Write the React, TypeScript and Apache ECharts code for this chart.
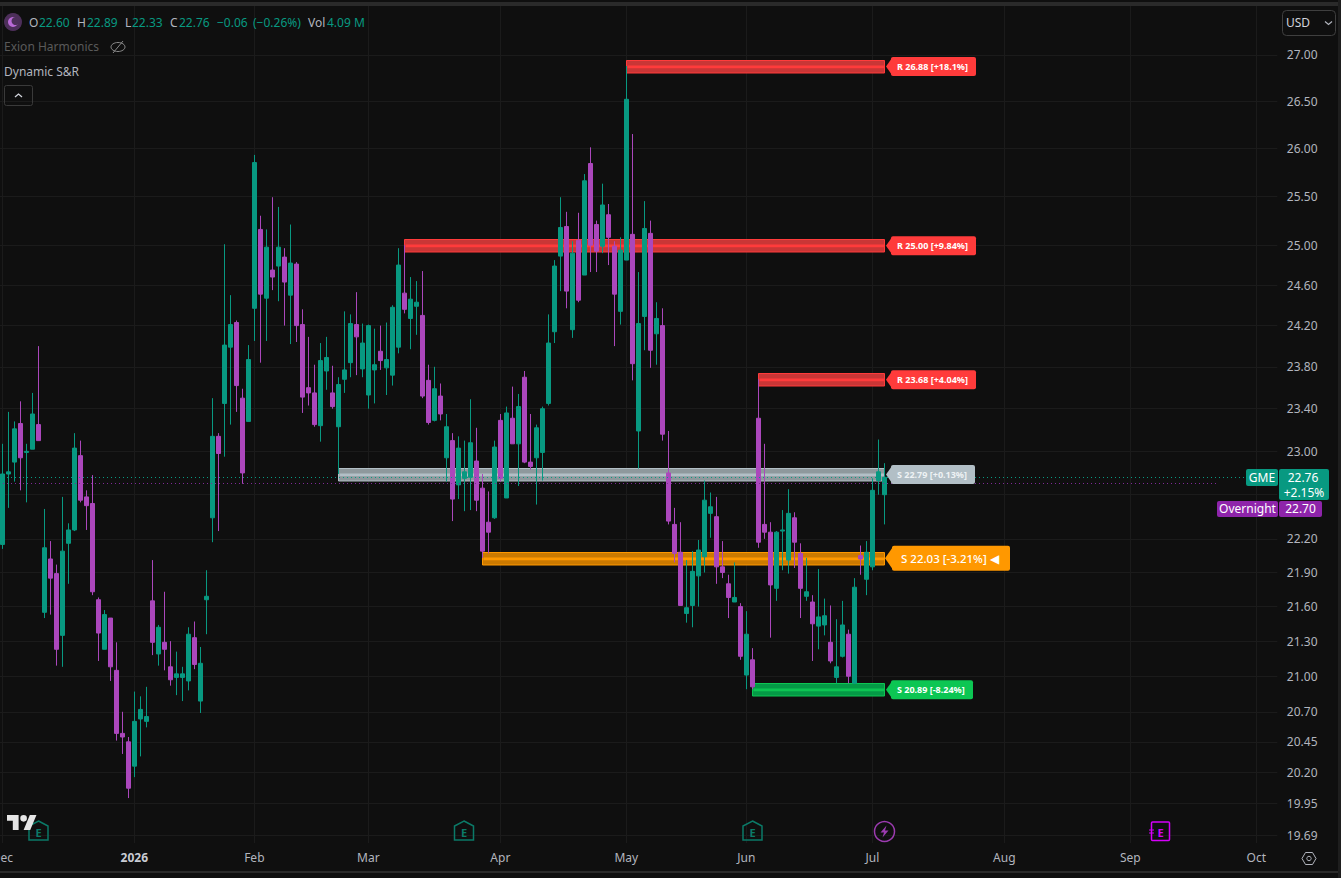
import React, { useEffect, useRef } from "react";
import * as echarts from "echarts";

const holidays = ["2025-12-25","2026-01-01","2026-01-19","2026-02-16","2026-04-03","2026-05-25","2026-06-19","2026-07-03","2026-09-07"];
const monthNames = ["2026","Feb","Mar","Apr","May","Jun","Jul","Aug","Sep","Oct","Nov","Dec"];

const opens = [
22.15,22.79,22.90,23.26,22.99,23.02,23.25,21.55,22.02,21.89,
21.35,22.16,22.28,22.96,22.58,22.52,21.66,21.23,21.50,21.05,
20.52,20.45,20.25,20.64,20.62,21.65,21.19,21.29,21.08,20.99,
20.99,20.96,21.33,20.79,21.66,22.39,23.14,23.45,23.99,24.23,
23.50,23.28,24.37,25.16,24.47,24.75,24.79,24.88,24.50,24.81,
24.21,23.60,23.55,23.24,23.76,23.55,23.23,23.68,23.84,24.21,
23.78,23.53,23.77,23.95,23.79,23.72,23.99,24.52,24.27,24.39,
24.30,23.67,23.29,23.52,22.94,23.10,22.69,22.75,22.76,22.91,
22.66,22.35,22.39,23.29,22.57,23.31,23.07,23.70,22.90,22.94,
22.99,23.45,24.14,24.89,25.19,24.16,25.05,24.70,25.84,25.21,
24.99,25.31,24.99,24.34,24.85,25.11,23.19,24.29,25.12,24.12,
24.20,22.80,22.33,22.08,21.54,21.61,21.87,22.04,22.43,22.40,
21.95,21.80,21.64,21.60,21.01,21.14,23.31,22.33,22.26,21.76,
22.27,22.01,22.39,22.07,21.69,21.64,21.43,21.44,21.29,20.99,
21.17,21.36,20.94,22.05,21.84,21.95,22.73,22.60];
const closes = [
22.79,22.81,23.21,22.94,23.00,23.35,23.10,22.12,21.85,21.23,
22.09,22.28,23.03,22.55,22.50,21.73,21.37,21.53,21.08,20.52,
20.49,20.07,20.62,20.72,20.66,21.29,21.42,21.23,20.97,21.02,
21.02,21.36,21.10,21.11,21.69,23.14,22.98,24.01,24.21,23.62,
22.80,23.87,25.85,24.51,24.98,24.68,24.98,24.63,24.82,24.20,
23.51,23.55,23.25,23.86,23.89,23.42,23.63,23.77,24.22,24.09,
24.03,24.20,23.82,23.86,23.87,24.38,24.80,24.36,24.46,24.43,
23.52,23.27,23.59,23.35,23.23,22.56,23.03,22.81,23.08,22.55,
22.09,22.26,23.04,22.75,23.36,23.07,23.42,22.90,22.86,23.22,
23.40,24.03,24.79,25.18,24.54,24.92,24.45,25.66,25.00,24.94,
25.41,25.08,24.51,24.95,26.52,23.83,24.22,25.17,23.96,24.27,
23.16,22.36,22.07,21.61,21.59,21.91,22.10,22.55,22.49,21.95,
21.90,21.68,21.68,21.17,21.36,20.91,22.17,22.26,21.79,22.26,
22.28,22.43,22.17,21.76,21.73,21.45,21.51,21.52,21.13,21.08,
21.44,21.00,21.77,22.02,22.08,22.64,22.81,22.76];
const lows = [
22.11,22.48,22.72,22.64,22.53,23.02,23.10,21.50,21.53,21.09,
21.08,21.80,22.27,22.53,22.28,21.70,21.13,21.23,20.96,20.46,
20.35,19.99,20.16,20.33,20.57,21.18,21.09,21.05,20.92,20.84,
20.79,20.88,21.06,20.69,21.36,22.17,22.27,22.95,23.25,23.37,
22.70,23.28,24.05,23.84,24.05,24.55,24.44,24.20,24.02,24.04,
23.36,23.43,23.23,23.09,23.58,23.40,22.79,23.55,23.70,23.72,
23.70,23.40,23.45,23.77,23.53,23.62,23.93,24.32,23.97,24.11,
23.50,23.25,23.28,23.29,22.72,22.36,22.56,22.45,22.46,22.45,
22.03,22.07,22.38,22.72,22.57,23.07,22.68,22.89,22.83,22.51,
22.73,23.43,24.03,24.54,24.37,24.08,24.43,24.70,24.73,24.73,
24.92,24.80,24.00,24.21,24.85,23.67,22.84,23.96,23.79,23.82,
23.10,22.33,21.99,21.61,21.46,21.42,21.60,21.90,22.21,21.80,
21.85,21.50,21.64,21.14,20.89,20.89,22.12,22.20,21.33,21.65,
21.92,21.89,21.94,21.50,21.65,21.13,21.23,21.35,21.11,20.94,
21.16,20.94,20.94,21.88,21.70,21.92,22.60,22.33];
const highs = [
23.07,23.37,23.28,23.47,23.07,23.55,24.00,22.47,22.18,21.97,
22.58,22.34,23.17,23.10,22.64,22.78,21.68,21.57,21.50,21.29,
20.70,20.49,20.87,20.83,20.91,22.01,21.44,21.73,21.30,21.21,
21.08,21.42,21.47,21.25,21.92,23.50,23.17,25.01,24.50,24.25,
23.59,24.01,25.93,25.30,25.16,25.49,25.39,24.97,25.21,24.83,
24.36,24.09,23.82,24.03,24.09,23.81,23.70,24.34,24.31,24.53,
24.22,24.21,24.17,24.20,24.23,24.40,24.97,25.00,24.68,24.64,
24.74,23.82,23.80,23.64,23.35,23.17,23.14,23.10,23.49,23.22,
22.79,22.63,23.10,23.35,23.42,23.61,23.54,23.76,23.35,23.25,
23.42,24.31,24.85,25.49,25.34,25.04,25.33,25.73,26.01,25.25,
25.63,25.42,25.04,25.08,26.88,26.15,24.73,25.45,25.25,24.43,
24.37,23.19,22.48,22.35,22.01,22.09,22.19,22.73,22.62,22.58,
22.18,21.88,21.99,21.63,21.56,21.24,23.68,23.07,22.35,22.27,
22.46,22.65,22.44,22.16,22.03,21.70,21.93,21.67,21.61,21.49,
21.65,21.40,21.85,22.14,22.18,22.75,23.11,22.89];

const gridPrices = [27,26.5,26,25.5,25,24.6,24.2,23.8,23.4,23,22.6,22.2,21.9,21.6,21.3,21,20.7,20.45,20.2,19.95,19.69];
const labelPrices = gridPrices.filter((p) => p !== 22.6);

const levelPrices = [26.88,25.0,23.68,22.79,22.03,20.89];
const levelStarts = [104,67,126,56,80,125];
const levelLabels = ["R 26.88 [+18.1%]","R 25.00 [+9.84%]","R 23.68 [+4.04%]","S 22.79 [+0.13%]","S 22.03 [-3.21%] ◀","S 20.89 [-8.24%]"];
const levelFill = ["#c93636","#c93636","#c93636","#8e989c","#cc7a00","#049a46"];
const levelBright = ["#ff3b3b","#ff3b3b","#ff3b3b","#b2bfc6","#ff9800","#0cc653"];
const levelTagRight = [976,976,976,975,1010,973];
const levelEnd = 147;
const pricePrices = [22.76,22.70];
const priceColors = ["#089981","#7e2a96"];
const priceLineEnds = [1246,1217];

const FONT = '"Noto Sans", sans-serif';
const UP = "#089981";
const DOWN = "#ab47bc";
const GRIDC = "#1b1b1b";
const TXT = "#b2b5be";
const BG = "#0f0f0f";

function buildCategories() {
  const out: string[] = [];
  const d = new Date(Date.UTC(2025, 11, 1));
  while (out.length < 213) {
    const s = d.toISOString().slice(0, 10);
    const wd = d.getUTCDay();
    if (wd !== 0 && wd !== 6 && !holidays.includes(s)) out.push(s);
    d.setUTCDate(d.getUTCDate() + 1);
  }
  return out;
}
const categories = buildCategories();
const isMonthStart = (i: number) => i === 0 || categories[i].slice(5, 7) !== categories[i - 1].slice(5, 7);
const monthLabel = (v: string) => monthNames[(Number(v.slice(5, 7)) - 1)];

const candleData = opens.map((o, i) => [o, closes[i], lows[i], highs[i]]);

function txt(text: string, x: number, y: number, fill: string, size = 12, extra: any = {}) {
  return {
    type: "text", z: 50, silent: true,
    style: { text, x, y, fill, font: `${extra.weight || "normal"} ${size}px ${FONT}`, align: extra.align || "left", verticalAlign: "middle" },
  };
}
function box(x: number, y: number, w: number, h: number, fill: string, r = 2) {
  return { type: "rect", z: 40, silent: true, shape: { x, y, width: w, height: h, r }, style: { fill } };
}
function house(cx: number) {
  const t = 821, b = 840, l = cx - 9.5, r = cx + 9.5;
  return [
    { type: "polygon", z: 30, silent: true, shape: { points: [[cx, t], [r, t + 5], [r, b], [l, b], [l, t + 5]] }, style: { fill: "none", stroke: "#0b7a68", lineWidth: 1.5 } },
    txt("E", cx, 832, "#0b7a68", 11, { align: "center", weight: "bold" }),
  ];
}

echarts.graphic.registerShape(
  "tvlogo",
  echarts.graphic.extendPath("M14 22H7V11H0V4h14v18zM28 22h-8l7.5-18h8L28 22zM24 8a4 4 0 1 1-8 0a4 4 0 1 1 8 0z", {}) as any
);

export default function App() {
  const ref = useRef<HTMLDivElement>(null);
  useEffect(() => {
    document.body.style.margin = "0";
    document.body.style.background = BG;
    const chart = echarts.init(ref.current!, undefined, { renderer: "svg" });
    const headerParts: [string, number, string][] = [
      ["O", 29, TXT], ["22.60", 39, UP], ["H", 77, TXT], ["22.89", 87, UP], ["L", 125, TXT], ["22.33", 132, UP],
      ["C", 170, TXT], ["22.76", 179, UP], ["−0.06", 217, UP], ["(−0.26%)", 253, UP], ["Vol", 308, TXT], ["4.09 M", 327, UP],
    ];
    const graphics: any[] = [
      { type: "rect", z: 60, silent: true, shape: { x: 0, y: 2, width: 1341, height: 4 }, style: { fill: "#2a2a2a" } },
      { type: "rect", z: 60, silent: true, shape: { x: 0, y: 871, width: 1341, height: 2 }, style: { fill: "#2a2a2a" } },
      { type: "rect", z: 60, silent: true, shape: { x: 1338, y: 0, width: 3, height: 878 }, style: { fill: "#1e1e1e" } },
      { type: "circle", z: 45, silent: true, shape: { cx: 13, cy: 22, r: 9 }, style: { fill: "#4d2f5a" } },
      { type: "circle", z: 46, silent: true, shape: { cx: 13, cy: 22, r: 5 }, style: { fill: "#b96ad6" } },
      { type: "circle", z: 47, silent: true, shape: { cx: 15.5, cy: 21, r: 4 }, style: { fill: "#4d2f5a" } },
      ...headerParts.map(([t, x, c]) => txt(t, x, 22.5, c, 12)),
      txt("Exion Harmonics", 4, 46.5, "#5a5a5a", 12),
      { type: "ellipse", z: 45, silent: true, shape: { cx: 118, cy: 47, rx: 7, ry: 4.5 }, style: { fill: "none", stroke: "#8a8a8a", lineWidth: 1 } },
      { type: "line", z: 45, silent: true, shape: { x1: 113, y1: 53, x2: 123, y2: 41 }, style: { stroke: "#8a8a8a", lineWidth: 1 } },
      txt("Dynamic S&R", 4, 71, TXT, 12),
      { type: "rect", z: 45, silent: true, shape: { x: 4.5, y: 85.5, width: 28, height: 20, r: 2 }, style: { fill: "none", stroke: "#3a3a3a", lineWidth: 1 } },
      { type: "polyline", z: 45, silent: true, shape: { points: [[15, 97], [18.5, 94], [22, 97]] }, style: { fill: "none", stroke: "#d1d4dc", lineWidth: 1.3 } },
      { type: "rect", z: 45, silent: true, shape: { x: 1282.5, y: 10.5, width: 53, height: 25, r: 4 }, style: { fill: BG, stroke: "#3f3f3f", lineWidth: 1 } },
      txt("USD", 1286, 22.5, "#d1d4dc", 12),
      { type: "polyline", z: 45, silent: true, shape: { points: [[1325, 21.5], [1328.5, 24.5], [1332, 21.5]] }, style: { fill: "none", stroke: "#b2b5be", lineWidth: 1.2 } },
      // right-hand price tags
      box(1246, 469, 32, 17, UP),
      txt("GME", 1262, 477.5, "#ffffff", 12, { align: "center" }),
      box(1279, 469, 50, 31, UP),
      txt("22.76", 1303, 477.5, "#ffffff", 12, { align: "center" }),
      txt("+2.15%", 1304, 492, "#ffffff", 12, { align: "center" }),
      box(1217, 501, 61, 16, "#8e24aa"),
      txt("Overnight", 1247.5, 508.5, "#ffffff", 12, { align: "center" }),
      box(1279, 501, 43, 16, "#8e24aa"),
      txt("22.70", 1300.5, 508.5, "#ffffff", 12, { align: "center" }),
      // markers
      ...house(38.5), ...house(464), ...house(752.5),
      { type: "tvlogo", z: 49, silent: true, x: 7, y: 811.7, scaleX: 0.83, scaleY: 0.83, style: { fill: "#e6e6e6" } },
      { type: "circle", z: 30, silent: true, shape: { cx: 884.5, cy: 831.5, r: 10 }, style: { fill: "none", stroke: "#9c3bb0", lineWidth: 1.5 } },
      { type: "polygon", z: 30, silent: true, shape: { points: [[886.5, 825.5], [880.5, 832.5], [884, 832.5], [882.5, 837.5], [888.5, 830.5], [885, 830.5]] }, style: { fill: "#9c3bb0" } },
      { type: "rect", z: 30, silent: true, shape: { x: 1151.5, y: 822, width: 18, height: 18.5, r: 1 }, style: { fill: "none", stroke: "#d500f9", lineWidth: 1.5 } },
      txt("E", 1160.5, 832, "#d500f9", 11, { align: "center", weight: "bold" }),
      { type: "line", z: 31, silent: true, shape: { x1: 1149, y1: 830, x2: 1154, y2: 830 }, style: { stroke: "#d500f9", lineWidth: 1 } },
      { type: "line", z: 31, silent: true, shape: { x1: 1149, y1: 833, x2: 1154, y2: 833 }, style: { stroke: "#d500f9", lineWidth: 1 } },
      { type: "polygon", z: 40, silent: true, shape: { points: [[1302, 858.5], [1305.5, 852.5], [1312.5, 852.5], [1316, 858.5], [1312.5, 864.5], [1305.5, 864.5]] }, style: { fill: "none", stroke: TXT, lineWidth: 1 } },
      { type: "circle", z: 40, silent: true, shape: { cx: 1309, cy: 858.5, r: 2.2 }, style: { fill: "none", stroke: TXT, lineWidth: 1 } },
    ];

    const bandItem = (params: any, api: any) => {
      const i = params.dataIndex;
      const a = api.coord([api.value(0), api.value(1)]);
      const b = api.coord([levelEnd, api.value(1)]);
      const x = Math.round(a[0]) + 0.5;
      const w = Math.round(b[0]) + 0.5 - x;
      const y = Math.round(a[1] - 6) + 0.5;
      return {
        type: "group",
        children: [
          { type: "rect", shape: { x, y, width: w, height: 12.5 }, style: { fill: levelFill[i], stroke: levelBright[i], lineWidth: 1 } },
          { type: "rect", shape: { x: x + 1, y: y + 5, width: w - 1, height: 2.7 }, style: { fill: levelBright[i] } },
        ],
      };
    };
    const priceLineItem = (params: any, api: any) => {
      const i = params.dataIndex;
      const c = api.coord([0, api.value(1)]);
      const y = Math.floor(c[1]) + 0.5;
      return {
        type: "line",
        shape: { x1: 3, y1: y, x2: priceLineEnds[i], y2: y },
        style: { stroke: priceColors[i], lineWidth: 1, lineDash: [1, 3] },
      };
    };
    const tagItem = (params: any, api: any) => {
      const i = params.dataIndex;
      const big = i === 4;
      const c = api.coord([levelEnd, api.value(1)]);
      const cy = c[1] + 0.5;
      const h = big ? 25 : 19;
      const left = big ? 892 : 891;
      const right = levelTagRight[i];
      const tip = big ? 885 : 886;
      const labelFill = i === 3 ? "#eef2f4" : "#ffffff";
      return {
        type: "group",
        children: [
          { type: "rect", shape: { x: left, y: cy - h / 2, width: right - left, height: h, r: 2 }, style: { fill: levelBright[i] } },
          { type: "polygon", shape: { points: [[left + 1, cy - h / 2 + 1], [tip, cy], [left + 1, cy + h / 2 - 1]] }, style: { fill: levelBright[i] } },
          { type: "text", style: { text: levelLabels[i], x: big ? 901 : 897, y: cy, fill: labelFill, align: "left", verticalAlign: "middle", font: `${big ? "500" : "bold"} ${big ? 11.5 : 9}px ${FONT}` } },
        ],
      };
    };

    chart.setOption({
      animation: false,
      backgroundColor: BG,
      grid: { left: -0.67, top: 6, width: 1278, height: 837, containLabel: false, outerBoundsMode: "none" },
      tooltip: { show: false },
      graphic: { elements: graphics },
      xAxis: {
        type: "category",
        data: categories,
        boundaryGap: true,
        axisLine: { show: false },
        axisTick: { show: false },
        axisLabel: {
          interval: (i: number) => isMonthStart(i),
          color: TXT,
          fontFamily: FONT,
          fontSize: 12,
          margin: 8,
          hideOverlap: false,
          formatter: (v: string) => (monthLabel(v) === "2026" ? "{y|2026}" : monthLabel(v)),
          rich: { y: { color: "#c9ccd4", fontWeight: "bold", fontFamily: FONT, fontSize: 12 } },
        },
        splitLine: { show: true, alignWithLabel: true, interval: (i: number) => isMonthStart(i), lineStyle: { color: GRIDC, width: 1 } },
      },
      yAxis: {
        type: "log",
        logBase: 10,
        position: "right",
        min: 19.63,
        max: 27.54,
        scale: true,
        axisLine: { show: false },
        axisTick: { show: false, customValues: gridPrices },
        axisLabel: {
          customValues: labelPrices,
          color: TXT,
          fontFamily: FONT,
          fontSize: 12,
          margin: 9.5,
          formatter: (v: number) => Number(v).toFixed(2),
        },
        splitLine: { show: true, lineStyle: { color: GRIDC, width: 1 } },
      },
      series: [
        {
          type: "custom",
          z: 1,
          silent: true,
          renderItem: bandItem,
          encode: { x: 0, y: 1 },
          data: levelPrices.map((p, i) => [levelStarts[i], p]),
        },
        {
          type: "candlestick",
          z: 2,
          silent: true,
          barWidth: 4,
          data: candleData,
          itemStyle: { color: UP, color0: DOWN, borderColor: UP, borderColor0: DOWN, borderWidth: 1 },
        },
        {
          type: "custom",
          z: 3,
          silent: true,
          renderItem: priceLineItem,
          encode: { x: 0, y: 1 },
          data: pricePrices.map((p) => [0, p]),
        },
        {
          type: "custom",
          z: 5,
          silent: true,
          renderItem: tagItem,
          encode: { x: 0, y: 1 },
          data: levelPrices.map((p) => [levelEnd, p]),
        },
      ],
    });
    return () => chart.dispose();
  }, []);
  return <div ref={ref} style={{ position: "fixed", left: 0, top: 0, width: 1341, height: 878 }} />;
}
